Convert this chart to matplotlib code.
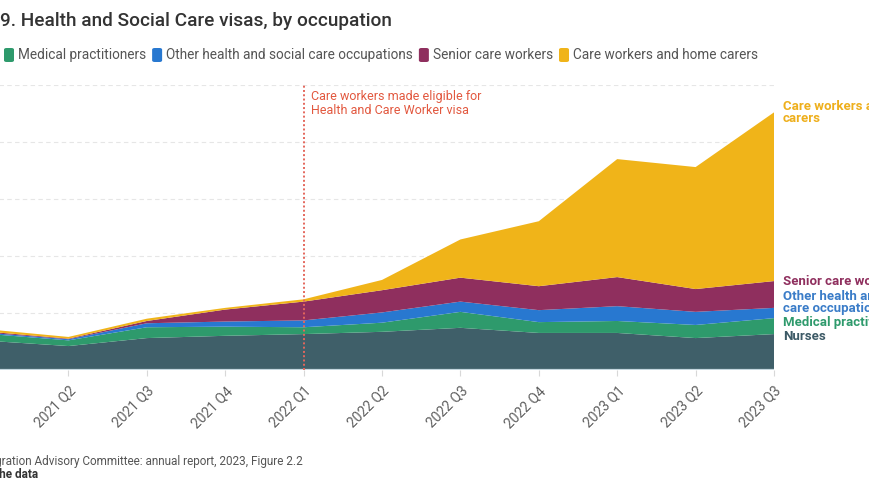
import matplotlib
matplotlib.use("Agg")
import matplotlib.pyplot as plt
from matplotlib.patches import FancyBboxPatch
from matplotlib.transforms import ScaledTranslation
import numpy as np

# ---- data ----
quarters = ["2021 Q1", "2021 Q2", "2021 Q3", "2021 Q4", "2022 Q1", "2022 Q2",
            "2022 Q3", "2022 Q4", "2023 Q1", "2023 Q2", "2023 Q3"]
nurses = [5100, 4200, 5600, 6000, 6300, 6700, 7400, 6500, 6500, 5600, 6300]
medical = [1200, 1000, 1900, 1600, 1200, 1600, 2800, 1900, 2100, 2300, 2800]
other = [200, 200, 700, 900, 1200, 1800, 1800, 2100, 2600, 2300, 1800]
senior = [200, 100, 400, 2100, 3300, 3900, 4200, 4200, 5100, 4000, 4700]
care = [400, 300, 400, 300, 400, 1800, 6700, 11400, 20700, 21400, 29600]

series_names = ["Nurses", "Medical practitioners",
                "Other health and social care occupations",
                "Senior care workers", "Care workers and home carers"]
end_labels = ["Nurses", "Medical practitioners",
              "Other health and social\ncare occupations",
              "Senior care workers", "Care workers and home\ncarers"]
# label anchor heights (layout, in data units)
end_label_y = [5950, 8250, 11850, 15600, 45150]
event_index = 4
event_text = "Care workers made eligible for\nHealth and Care Worker visa"
title = "9. Health and Social Care visas, by occupation"
source = "Source: Migration Advisory Committee: annual report, 2023, Figure 2.2"
getdata = "Get the data"

colors = ["#3f5f69", "#2e9a6c", "#2878d0", "#8f2f5e", "#f0b419"]
label_colors = ["#3d5a66", "#2e9a6c", "#3a7cc8", "#8f2f5e", "#eeaf1c"]

plt.rcParams["font.family"] = ["Roboto", "DejaVu Sans"]

W, H = 869, 504
fig = plt.figure(figsize=(W / 100, H / 100), dpi=100)
fig.patch.set_facecolor("white")


def fx(px):
    return px / W


def fy(py):
    return 1 - py / H


ax = fig.add_axes([fx(-10), fy(370), 784 / W, (370 - 85) / H])
x = np.arange(len(quarters))
ax.stackplot(x, nurses, medical, other, senior, care, colors=colors,
             linewidth=0, zorder=2)
ax.set_xlim(0, len(quarters) - 1)
ax.set_ylim(0, 50000)
ax.set_yticks(np.arange(10000, 50001, 10000))
ax.grid(axis="y", linestyle=(0, (4, 3)), color="#e6e6e6", linewidth=0.8,
        zorder=0)
ax.set_axisbelow(True)
for s in ax.spines.values():
    s.set_visible(False)
ax.axhline(0, color="#c4d6de", lw=1.6, zorder=3)
ax.set_xticks(x)
ax.set_xticklabels(quarters, rotation=45, ha="right", va="center",
                   rotation_mode="anchor", fontsize=10, color="#5f5f5f")
ax.tick_params(axis="x", length=4, color="#d8d8d8", pad=6)
ax.tick_params(axis="y", length=0, labelleft=False)
shift = ScaledTranslation(5 / 100, -5 / 100, fig.dpi_scale_trans)
for lbl in ax.get_xticklabels():
    lbl.set_transform(lbl.get_transform() + shift)

# event line
ax.axvline(event_index, color="#e4675c", ls=(0, (1, 1.2)), lw=1.4, zorder=4)
ax.annotate(event_text, xy=(event_index, 50000), xytext=(7, -5),
            textcoords="offset pixels", ha="left", va="top", fontsize=9,
            color="#e2583f", linespacing=1.15, annotation_clip=False)

# end labels
for lab, yl, c in zip(end_labels, end_label_y, label_colors):
    ax.annotate(lab, xy=(len(quarters) - 1, yl), xytext=(9, 0),
                textcoords="offset pixels", ha="left", va="center",
                fontsize=9.5, weight="semibold", color=c, linespacing=0.95,
                annotation_clip=False)

# title
fig.text(fx(0), fy(21), title, fontsize=13.7, weight="medium",
         color="#333333", ha="left", va="center")

# legend (manual)
fig.canvas.draw()
renderer = fig.canvas.get_renderer()
xpos = 4
ycen = 55
for name, c in zip(series_names[1:], colors[1:]):
    sq = FancyBboxPatch((fx(xpos), fy(ycen + 7)), 10 / W, 14 / H,
                        boxstyle="round,pad=0,rounding_size=0.003",
                        transform=fig.transFigure, facecolor=c,
                        edgecolor="none")
    fig.add_artist(sq)
    t = fig.text(fx(xpos + 14), fy(ycen), name, fontsize=9.8,
                 color="#555555", ha="left", va="center")
    bb = t.get_window_extent(renderer)
    xpos = xpos + 14 + bb.width + 6

# footer
fig.text(fx(303), fy(461), source, fontsize=8.5, color="#555555",
         ha="right", va="center")
fig.text(fx(38), fy(475), getdata, fontsize=8.5, color="#333333",
         weight="bold", ha="right", va="center")

fig.savefig("out.png", dpi=100, facecolor="white")
